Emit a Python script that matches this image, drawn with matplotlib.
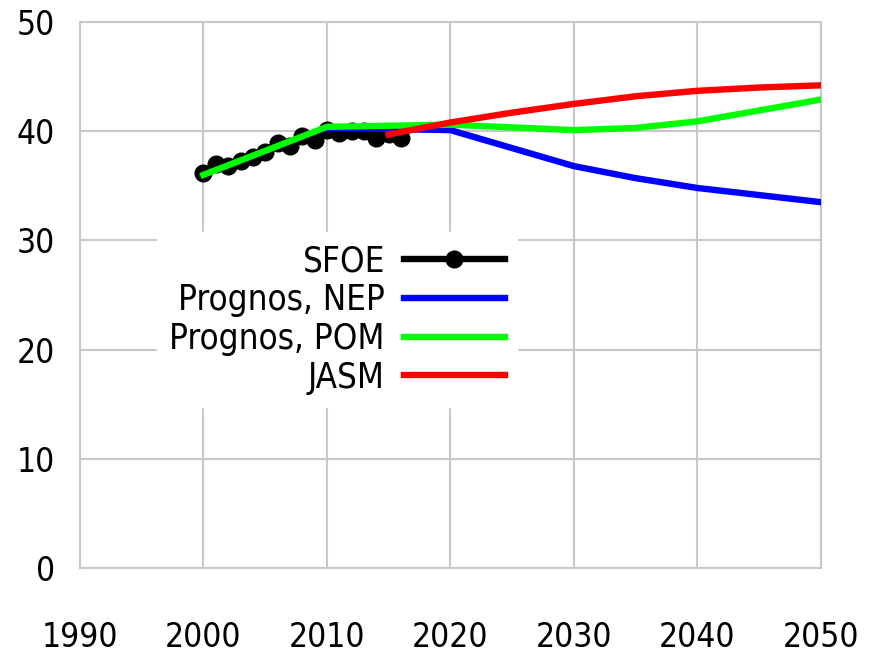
import numpy as np
import matplotlib
matplotlib.use("Agg")
import matplotlib.pyplot as plt

plt.rcParams['font.family'] = ['DejaVu Sans']
plt.rcParams['font.stretch'] = 'condensed'

# SFOE measured values
sfoe_years = [2000, 2001, 2002, 2003, 2004, 2005, 2006, 2007, 2008,
              2009, 2010, 2011, 2012, 2013, 2014, 2015, 2016]
sfoe_vals = [36.2, 37.0, 36.8, 37.3, 37.6, 38.1, 38.9, 38.6, 39.6,
             39.2, 40.1, 39.8, 40.0, 40.0, 39.4, 39.7, 39.4]

# Prognos NEP scenario
nep_years = [2010, 2020, 2030, 2035, 2040, 2050]
nep_vals = [40.3, 40.1, 36.8, 35.7, 34.8, 33.5]

# Prognos POM scenario
pom_years = [2000, 2010, 2020, 2030, 2035, 2040, 2050]
pom_vals = [36.0, 40.4, 40.6, 40.1, 40.3, 40.9, 42.9]

# JASM
jasm_years = [2015, 2020, 2025, 2030, 2035, 2040, 2045, 2050]
jasm_vals = [39.7, 40.8, 41.7, 42.5, 43.2, 43.7, 44.0, 44.2]

xticks = [1990, 2000, 2010, 2020, 2030, 2040, 2050]
yticks = [0, 10, 20, 30, 40, 50]

fig = plt.figure(figsize=(8.71, 6.53), dpi=100)
ax = fig.add_axes([0.0918, 0.1302, 0.8508, 0.8361])

ax.plot(sfoe_years, sfoe_vals, color='black', lw=4.6, marker='o', ms=12,
        label='SFOE', zorder=3)
ax.plot(nep_years, nep_vals, color='#0000ff', lw=4.6, label='Prognos, NEP', zorder=4)
ax.plot(pom_years, pom_vals, color='#00ff00', lw=4.6, label='Prognos, POM', zorder=5)
ax.plot(jasm_years, jasm_vals, color='#ff0000', lw=4.6, label='JASM', zorder=6)

ax.set_xlim(1990, 2050)
ax.set_ylim(0, 50)
ax.set_xticks(xticks)
ax.set_yticks(yticks)
ax.grid(True, color='#c8c8c8', lw=1.5)
ax.set_axisbelow(True)
for s in ax.spines.values():
    s.set_color('#c8c8c8')
    s.set_linewidth(1.5)
ax.tick_params(length=0, labelsize=24)
ax.tick_params(axis='x', pad=38)
ax.tick_params(axis='y', pad=18)

leg = ax.legend(loc='center', bbox_to_anchor=(0.387, 0.511),
                bbox_transform=fig.transFigure, fontsize=25, frameon=True,
                markerfirst=False, handlelength=2.9, labelspacing=0.14,
                handletextpad=0.55, borderpad=0.35, fancybox=False)
leg.get_frame().set_edgecolor('white')
leg.get_frame().set_facecolor('white')
leg.get_frame().set_alpha(1)
plt.setp(leg.get_texts(), ha='right')
leg._legend_box.align = 'right'

fig.savefig('out.png', dpi=100)
